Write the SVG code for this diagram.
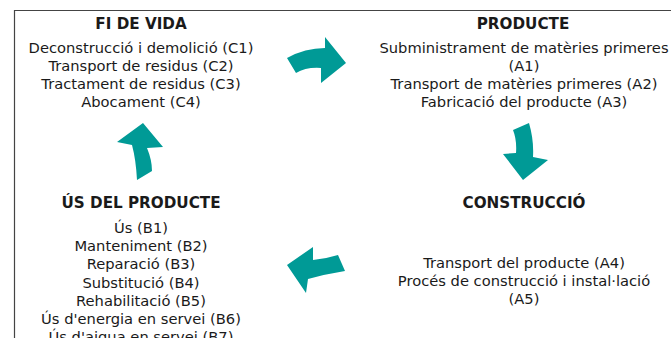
<svg xmlns="http://www.w3.org/2000/svg" width="671" height="338" viewBox="0 0 671 338">
<style>
text{font-family:"DejaVu Sans",Verdana,sans-serif;font-size:14.7px;fill:#1a1a1a;text-anchor:middle}
.h{font-weight:bold;font-size:15.2px}
.arr{fill:#009a96}
</style>
<rect width="671" height="338" fill="#fff"/>
<path d="M14.5,338 V10.5 H671" fill="none" stroke="#444" stroke-width="1.2"/>
<g id="fi-de-vida">
<text class="h" x="141" y="29">FI DE VIDA</text>
<text x="141" y="53">Deconstrucció i demolició (C1)</text>
<text x="141" y="71">Transport de residus (C2)</text>
<text x="141" y="89">Tractament de residus (C3)</text>
<text x="141" y="107">Abocament (C4)</text>
</g>
<g id="producte">
<text class="h" x="523" y="29">PRODUCTE</text>
<text x="524" y="53">Subministrament de matèries primeres</text>
<text x="524" y="71">(A1)</text>
<text x="524" y="89">Transport de matèries primeres (A2)</text>
<text x="524" y="107">Fabricació del producte (A3)</text>
</g>
<g id="construccio">
<text class="h" x="524" y="208">CONSTRUCCIÓ</text>
<text x="524" y="268">Transport del producte (A4)</text>
<text x="524" y="286">Procés de construcció i instal·lació</text>
<text x="524" y="304">(A5)</text>
</g>
<g id="us-del-producte">
<text class="h" x="141" y="208">ÚS DEL PRODUCTE</text>
<text x="141" y="233">Ús (B1)</text>
<text x="141" y="251">Manteniment (B2)</text>
<text x="141" y="269">Reparació (B3)</text>
<text x="141" y="288">Substitució (B4)</text>
<text x="141" y="306">Rehabilitació (B5)</text>
<text x="141" y="324">Ús d'energia en servei (B6)</text>
<text x="141" y="342">Ús d'aigua en servei (B7)</text>
</g>
<g id="connectors">
<path class="arr" d="M287,58 Q305,48 325,48 L325,37 L346,63 L321,83 L321,68 Q306,67 296,73 Z"/>
<path class="arr" d="M513,130 L529,123 Q534,140 533,157 L548,160 L523,180 L503,154 L516,153 Q517,140 513,130 Z"/>
<path class="arr" d="M338,255 Q325,259 313,260 L313,247 L287,265 L306,293 L308,279 Q326,274 345,271 Z"/>
<path class="arr" d="M137,180 Q136,160 132,145 L117,142 L143,123 L163,147 L147,148 Q152,160 152,171 Z"/>
</g>
</svg>
